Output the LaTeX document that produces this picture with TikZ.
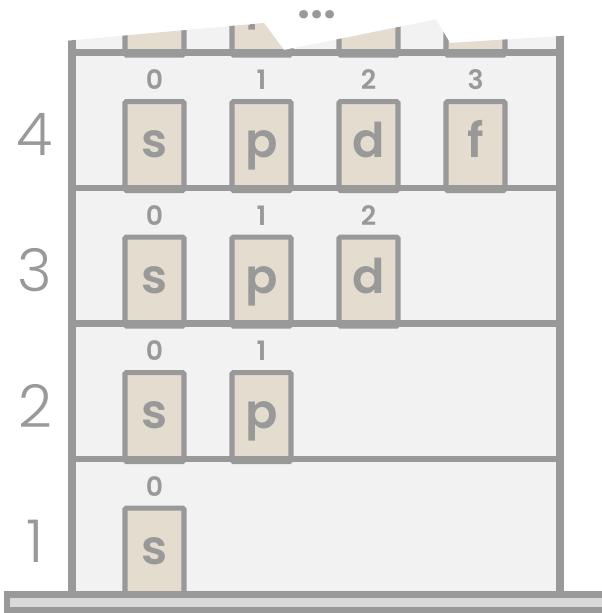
\documentclass[tikz,border=0pt]{standalone}
\usepackage{fontspec}
\setmainfont{Poppins}
\newfontfamily\semifont{Poppins SemiBold}
\newfontfamily\lightfont{Poppins Light}
\usepackage{tikz}
\usetikzlibrary{positioning}
\definecolor{wallgray}{HTML}{999999}
\definecolor{roomgray}{HTML}{F2F2F2}
\definecolor{boxbeige}{HTML}{E5DCD0}
\definecolor{groundgray}{HTML}{D9D9D9}
\tikzset{
  orb/.style={draw=wallgray, fill=boxbeige, line width=3.6pt, rounded corners=1pt,
    minimum width=1.475cm, minimum height=2.225cm, anchor=north, inner sep=0pt,
    text=wallgray, font=\fontsize{34}{34}\semifont,
    text height=20pt, text depth=3.6pt},
  orbnum/.style={inner sep=0pt, text=wallgray, font=\fontsize{19}{19}\semifont},
  shellnum/.style={inner sep=0pt, text=wallgray, font=\fontsize{42}{42}\lightfont},
  floorline/.style={draw=wallgray, line width=4.6pt},
  wall/.style={draw=wallgray, line width=5.7pt},
  ground/.style={draw=wallgray, fill=groundgray, line width=4.3pt},
}

\begin{document}
\begin{tikzpicture}[x=0.025cm,y=-0.025cm]
        \useasboundingbox (0,0) rectangle (601,613);
        \begin{scope}
        %Torn top
        \clip (64,41) -- (264,23) -- (284,50) -- (436,19.5) -- (450,43) -- (568,35.5)
              -- (568,600) -- (64,600) -- cycle;
        %Rooms
        \fill[roomgray] (72,-100) rectangle (560,594.5);
        %Orbitals, shell 5
        \node[orb] (s5) at (154.5,-36.5) {};
        \node[orb, text depth=10pt] (p5) at (261.5,-36.5) {p};
        \node[orb] (d5) at (368.5,-36.5) {};
        \node[orb] (f5) at (475.5,-36.5) {};
        %Orbitals, shell 4
        \node[orb] (s4) at (154.5,99) {s};
        \node[orb] (p4) at (261.5,99) {p};
        \node[orb] (d4) at (368.5,99) {d};
        \node[orb] (f4) at (475.5,99) {f};
        %Orbitals, shell 3
        \node[orb] (s3) at (154.5,234.5) {s};
        \node[orb] (p3) at (261.5,234.5) {p};
        \node[orb] (d3) at (368.5,234.5) {d};
        %Orbitals, shell 2
        \node[orb] (s2) at (154.5,370) {s};
        \node[orb] (p2) at (261.5,370) {p};
        %Orbitals, shell 1
        \node[orb] (s1) at (154.5,505.5) {s};
        %Floors
        \draw[floorline] (72,52.5) -- (560,52.5);
        \draw[floorline] (72,188) -- (560,188);
        \draw[floorline] (72,323.5) -- (560,323.5);
        \draw[floorline] (72,459) -- (560,459);
        %Walls
        \draw[wall] (72,-100) -- (72,594.5);
        \draw[wall] (560,-100) -- (560,594.5);
        \end{scope}
        %Ground
        \draw[ground] (7,594.5) rectangle (606,610.5);
        %Sublevel numbers
        \node[orbnum, above=6.4pt of s4] (l4s) {0};
        \node[orbnum, above=6.4pt of p4] (l4p) {1};
        \node[orbnum, above=6.4pt of d4] (l4d) {2};
        \node[orbnum, above=6.4pt of f4] (l4f) {3};
        \node[orbnum, above=6.4pt of s3] (l3s) {0};
        \node[orbnum, above=6.4pt of p3] (l3p) {1};
        \node[orbnum, above=6.4pt of d3] (l3d) {2};
        \node[orbnum, above=6.4pt of s2] (l2s) {0};
        \node[orbnum, above=6.4pt of p2] (l2p) {1};
        \node[orbnum, above=6.4pt of s1] (l1s) {0};
        %Shell numbers
        \node[shellnum] (n4) at (35,134.5) {4};
        \node[shellnum] (n3) at (35,270) {3};
        \node[shellnum] (n2) at (35,405.5) {2};
        \node[shellnum] (n1) at (35,541) {1};
        %More shells
        \node[orbnum, font=\fontsize{36}{36}\semifont] (more) at (317,15) {...};
      \end{tikzpicture}
\end{document}
